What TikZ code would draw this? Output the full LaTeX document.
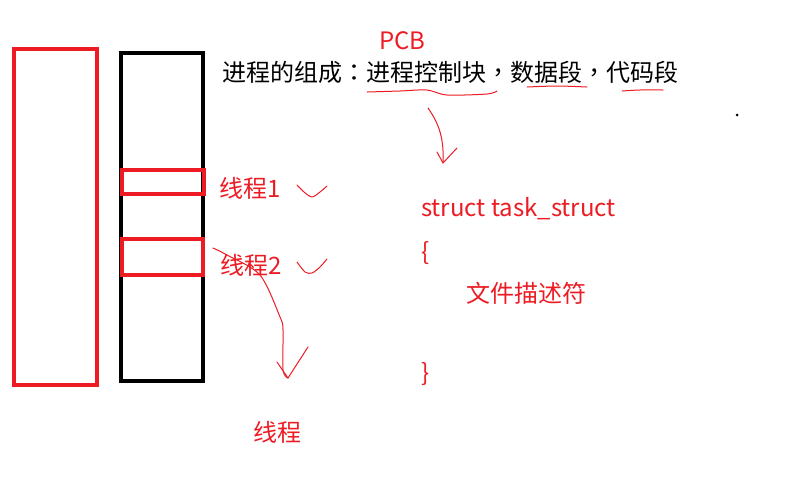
\documentclass[tikz,border=0pt]{standalone}
\usepackage{fontspec}
\setmainfont{Noto Sans CJK SC}
\newfontfamily\cjktc{Noto Sans CJK TC}
\usepackage{tikz}
\usetikzlibrary{positioning}
\definecolor{paintred}{RGB}{237,28,36}
\newcommand{\punct}[1]{{\cjktc #1}}

\begin{document}
\begin{tikzpicture}[x=1pt, y=-1pt,
		box/.style    = {draw, line width=4pt, inner sep=0pt},
		redbox/.style = {box, draw=paintred},
		txt/.style    = {inner sep=0pt, anchor=west, text height=21pt, text depth=3pt, font=\fontsize{24}{28}\selectfont},
		redtxt/.style = {txt, text=paintred},
		pen/.style    = {draw=paintred, line width=1pt, line cap=round, line join=round}]
		
		\useasboundingbox[fill=white] (0,0) rectangle (800,480);
		
		% the two memory columns, thread slots on top
		\node[redbox, minimum width=83pt, minimum height=336pt] (space) at (55.5,217) {};
		\node[box, minimum width=82pt, minimum height=328pt] (proc) at (162,217) {};
		\node[redbox, minimum width=82pt, minimum height=24pt] (t1box) at (163,182) {};
		\node[redbox, minimum width=81pt, minimum height=36pt] (t2box) at (162.5,257) {};
		
		% texts
		\node[redtxt] (pcb) at (379,40) {PCB};
		\node[txt] (parts) at (222,72) {进程的组成\punct{：}进程控制块\punct{，}数据段\punct{，}代码段};
		\node[redtxt] (t1) at (219,188) {线程1};
		\node[redtxt] (t2) at (220,265) {线程2};
		\node[redtxt] (thread) at (253,432) {线程};
		\node[redtxt] (task) at (421,207) {struct task\_struct};
		\node[redtxt] (lbrace) at (421,251) {\{};
		\node[redtxt] (fd) at (466,293) {文件描述符};
		\node[redtxt] (rbrace) at (421,372) {\}};
		
		\fill (737,115) circle (1.5pt);
		
		% hand drawn underlines
		\draw[pen] plot[smooth] coordinates {(367,92) (400,91) (427,90) (447,95) (487,94) (497,91)};
		\draw[pen] plot[smooth] coordinates {(527,87) (557,86) (587,87)};
		\draw[pen] plot[smooth] coordinates {(622,91) (640,90) (663,90)};
		
		% ticks after the threads
		\draw[pen] plot[smooth] coordinates {(297,185) (304,192) (312,197) (320,192) (327,186)};
		\draw[pen] plot[smooth] coordinates {(297,262) (305,272) (312,273) (320,267) (327,259)};
		
		% arrows
		\coordinate (pcbfrom) at (428,108);
		\coordinate (pcbto) at (443,163);
		\draw[pen] (pcbfrom) .. controls (440,125) and (444,140) .. (pcbto);
		\draw[pen] (pcbto) ++(-6,-11) -- (pcbto) -- ++(14,-15);
		
		\coordinate (t2from) at (213,248);
		\coordinate (t2to) at (288,378);
		\draw[pen] plot[smooth] coordinates {(t2from) (227,255) (260,275) (280,317) (283,330) (283,370) (t2to)};
		\draw[pen] (t2to) ++(-11,-16) -- (t2to) -- ++(20,-31);
		
	\end{tikzpicture}
\end{document}
